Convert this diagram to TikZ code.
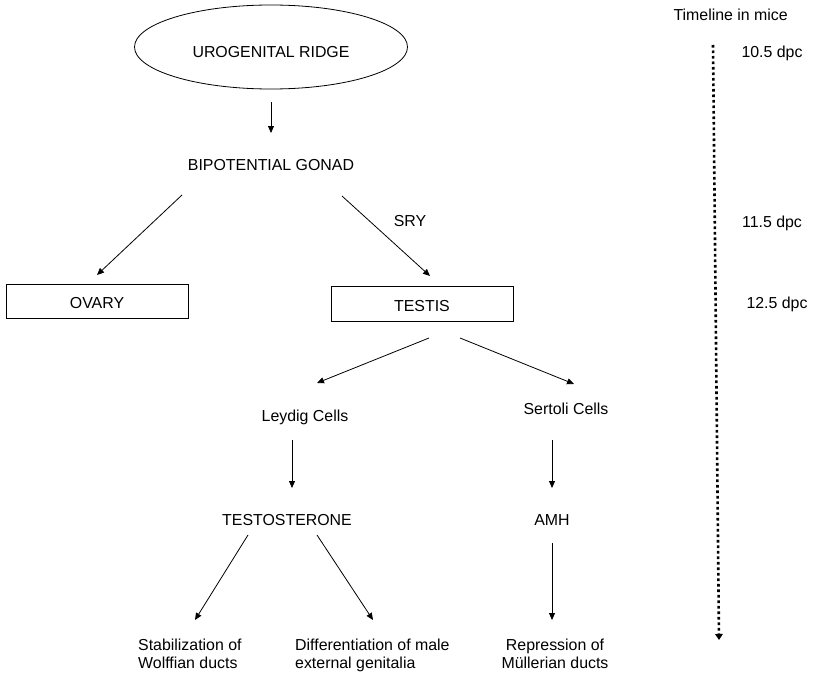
\documentclass[tikz,border=0pt]{standalone}
\usepackage{fontspec}
\setmainfont{Liberation Sans}
\usetikzlibrary{arrows.meta,calc,shapes.geometric}
\tikzset{
  lbl/.style={inner sep=0pt, text height=11.5pt, text depth=0pt, font=\fontsize{15.9}{17.5}\selectfont},
  para/.style={inner sep=0pt, font=\fontsize{15.9}{17.5}\selectfont},
  boxnode/.style={lbl, text height=15.5pt, draw, line width=0.9pt, minimum width=182pt, minimum height=34pt},
  arr/.style={line width=0.8pt, -{Triangle[length=7pt,width=6pt]}},
  timeline/.style={line width=2.6pt, dash pattern=on 2.6pt off 2.9pt, -{Triangle[length=6pt,width=7.5pt]}}
}
\begin{document}
\begin{tikzpicture}[x=1pt,y=-1pt]
\useasboundingbox[fill=white] (0,0) rectangle (813,674);
% main nodes
\node[ellipse, draw, line width=0.8pt, minimum width=273pt, minimum height=84pt, inner sep=0pt,
      text height=21.5pt, text depth=0pt, font=\fontsize{15.9}{17.5}\selectfont] (ur) at (271,47) {UROGENITAL RIDGE};
\node[lbl] (bg) at (271,165) {BIPOTENTIAL GONAD};
\node[lbl] (sry) at (410,221) {SRY};
\node[boxnode] (ov) at (97,301) {OVARY};
\node[boxnode, minimum height=35pt] (ts) at (422,304) {TESTIS};
\node[lbl] (ley) at (305,416) {Leydig Cells};
\node[lbl] (ser) at (566,409) {Sertoli Cells};
\node[lbl] (tes) at (287,520) {TESTOSTERONE};
\node[lbl] (amh) at (552,520) {AMH};
\node[para, align=left, anchor=north west] (stab) at (138,639) {Stabilization of\\Wolffian ducts};
\node[para, align=left, anchor=north west] (diff) at (295,639) {Differentiation of male\\external genitalia};
\node[para, align=center, anchor=north] (rep) at (555,639) {Repression of\\Müllerian ducts};
% timeline
\node[lbl, anchor=east] (tl) at (788,15) {Timeline in mice};
\node[lbl] (d105) at (772,52) {10.5 dpc};
\node[lbl] (d115) at (772,222) {11.5 dpc};
\node[lbl] (d125) at (777,303) {12.5 dpc};
\coordinate (tlend) at (719,640);
% connectors
\draw[arr] ($(ur.south)+(0,13)$) -- ($(bg)+(0,-32)$);
\draw[arr] ($(bg)+(-89,30)$) -- ($(ov)+(0,-26)$);
\draw[arr] ($(bg)+(71,31)$) -- ($(ts)+(8,-28)$);
\draw[arr] ($(ts)+(7,34)$) -- ($(ley)+(12,-33)$);
\draw[arr] ($(ts)+(38,34)$) -- ($(ser)+(8,-25)$);
\draw[arr] ($(ley)+(-13,24)$) -- ($(tes)+(5,-32)$);
\draw[arr] ($(ser)+(-14,31)$) -- ($(amh)+(0,-32)$);
\draw[arr] ($(tes)+(-39,15)$) -- ($(stab.north west)+(57,-19)$);
\draw[arr] ($(tes)+(30,15)$) -- ($(diff.north west)+(78,-19)$);
\draw[arr] ($(amh)+(0,23)$) -- ($(rep.north)+(-3,-19)$);
\draw[timeline] (d105.west -| 713,0) ++(0,-7) -- (tlend);
\end{tikzpicture}
\end{document}
